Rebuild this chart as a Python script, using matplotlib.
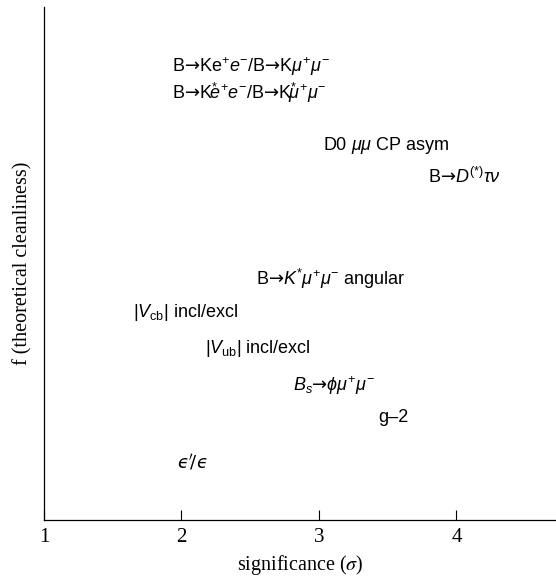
import matplotlib
matplotlib.use("Agg")
import matplotlib.pyplot as plt

plt.rcParams["mathtext.fontset"] = "custom"
plt.rcParams["mathtext.rm"] = "Liberation Sans"
plt.rcParams["mathtext.it"] = "Liberation Sans:italic"
plt.rcParams["mathtext.bf"] = "Liberation Sans:bold"
plt.rcParams["mathtext.sf"] = "DejaVu Sans"

A = r"$\mathsf{→}$"

# labels, significance (sigma), theoretical cleanliness (0-1 of axis)
labels = [
    "B" + A + r"Ke$^{+}$$e^{-}$/B" + A + r"K$\mu^{+}\mu^{-}$",
    "B" + A + r"K$^{*}$$\!\!\!e^{+}e^{-}$/B" + A + r"K$^{*}\!\!\!\mu^{+}\mu^{-}$",
    r"D0 $\mu\mu$ CP asym",
    "B" + A + r"$D^{(*)}\tau\nu$",
    "B" + A + r"$K^{*}\mu^{+}\mu^{-}$ angular",
    r"$|V_{\mathrm{cb}}|$ incl/excl",
    r"$|V_{\mathrm{ub}}|$ incl/excl",
    r"$B_s$" + A + r"$\phi\mu^{+}\mu^{-}$",
    r"g–2",
    r"$ϵ'\!/ϵ$",
]
significance = [1.93, 1.93, 3.03, 3.79, 2.54, 1.65, 2.17, 2.81, 3.43, 1.97]
cleanliness = [0.885, 0.832, 0.731, 0.669, 0.470, 0.404, 0.335, 0.263, 0.199, 0.113]

fig = plt.figure(figsize=(5.56, 5.82), dpi=100)
ax = fig.add_axes([0.079, 0.1065, 0.921, 0.881])

for lab, x, y in zip(labels, significance, cleanliness):
    mf = "dejavusans" if "ϵ" in lab else None
    ax.text(x, y, lab, fontsize=13, family="Liberation Sans",
            ha="left", va="center", math_fontfamily=mf)

ax.set_xlim(1, 4.724)
ax.set_ylim(0, 1)
ax.set_xticks([1, 2, 3, 4])
ax.set_yticks([])
ax.tick_params(axis="x", direction="in", length=7, width=0.8, pad=6,
               labelsize=15)
for t in ax.get_xticklabels():
    t.set_family("Liberation Serif")
ax.spines["top"].set_visible(False)
ax.spines["right"].set_visible(False)
ax.spines["left"].set_linewidth(0.9)
ax.spines["bottom"].set_linewidth(0.9)

ax.set_xlabel(r"significance ($\sigma$)", fontsize=14.5,
              family="Liberation Serif", math_fontfamily="stix")
ax.set_ylabel("f (theoretical cleanliness)", fontsize=14.5,
              family="Liberation Serif", labelpad=8)

fig.savefig("out.png", dpi=100)
